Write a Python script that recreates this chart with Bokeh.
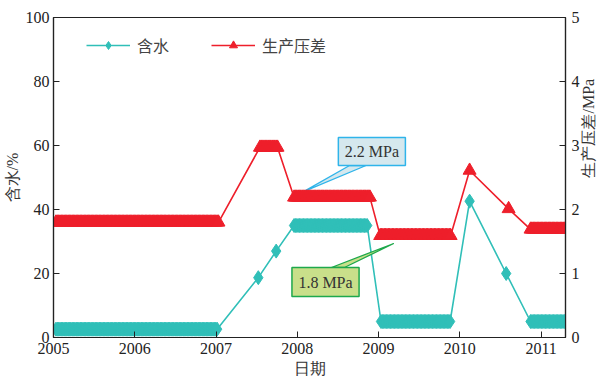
import numpy as np
from bokeh.plotting import figure
from bokeh.models import Range1d, LinearAxis, FixedTicker, Legend, LegendItem
from bokeh.embed import file_html
from bokeh.resources import INLINE
from bokeh.core.properties import value

# ---------------- data ----------------
years = [2005, 2006, 2007, 2008, 2009, 2010, 2011]
left_ticks = [0, 20, 40, 60, 80, 100]
right_ticks = [0, 1, 2, 3, 4, 5]

# water cut (%): plateaus of dense daily readings + single readings
water_plateau_start = [2005.03, 2007.96, 2009.03, 2010.87]
water_plateau_end = [2007.02, 2008.86, 2009.88, 2011.29]
water_plateau_value = [2.6, 35.0, 5.0, 5.0]
water_point_year = [2007.52, 2007.74, 2010.12, 2010.57]
water_point_value = [18.7, 27.0, 42.6, 20.0]

# production pressure difference (MPa)
press_plateau_start = [2005.03, 2007.54, 2007.96, 2009.02, 2010.87]
press_plateau_end = [2007.03, 2007.76, 2008.90, 2009.89, 2011.29]
press_plateau_value = [1.80, 2.97, 2.19, 1.59, 1.69]
press_point_year = [2010.12, 2010.60]
press_point_value = [2.61, 2.01]

annotation_texts = ["2.2 MPa", "1.8 MPa"]

STEP = 1.0 / 60.0  # sampling of the plateau readings


def build(starts, ends, vals, pyears, pvals):
    xs, ys = [], []
    for s, e, v in zip(starts, ends, vals):
        d = np.arange(s, e + 1e-9, STEP)
        xs.extend(d.tolist())
        ys.extend([v] * len(d))
    xs.extend(pyears)
    ys.extend(pvals)
    order = np.argsort(xs)
    return [xs[i] for i in order], [ys[i] for i in order]


wx, wy = build(water_plateau_start, water_plateau_end, water_plateau_value,
               water_point_year, water_point_value)
px_, py_ = build(press_plateau_start, press_plateau_end, press_plateau_value,
                 press_point_year, press_point_value)

# ---------------- figure ----------------
TEAL = "#30bfb8"
RED = "#ee1f2b"
SERIF = "Liberation Serif"
CJK = "Noto Sans CJK SC"

p = figure(width=608, height=383, x_range=Range1d(2005, 2011.3),
           y_range=Range1d(0, 100), output_backend="svg",
           toolbar_location=None, min_border_left=49, min_border_right=41,
           min_border_top=17, min_border_bottom=46)
p.extra_y_ranges = {"right": Range1d(0, 5)}
p.grid.visible = False
p.outline_line_color = "#222222"
p.outline_line_width = 1.2
p.background_fill_color = "white"
p.border_fill_color = "white"

# annotations (callout boxes) drawn first
p.patch([2008.077, 2008.643, 2008.846], [45.6, 53.75, 53.75],
        fill_color="#d5e8ee", line_color="#2fb4ea", line_width=1.3)
p.quad(left=[2008.505], right=[2009.33], top=[62.5], bottom=[53.75],
       fill_color="#d5e8ee", line_color="#2fb4ea", line_width=1.5)
p.text(x=[2008.918], y=[58.1], text=[annotation_texts[0]],
       text_font=value(SERIF), text_font_size="16px",
       text_color="#333333", text_align="center", text_baseline="middle")

# series
wl = p.line(wx, wy, line_color=TEAL, line_width=1.6)
ws = p.scatter(wx, wy, marker="diamond", size=14,
               fill_color=TEAL, line_color=TEAL, line_width=1)
pl = p.line(px_, py_, line_color=RED, line_width=1.6, y_range_name="right")
ps = p.scatter(px_, py_, marker="triangle", size=13, fill_color=RED,
               line_color=RED, line_width=1, y_range_name="right")

p.patch([2009.186, 2008.42, 2008.58], [29.375, 21.875, 21.875],
        fill_color="#c9df8a", line_color="#1ea84c", line_width=1.3)
p.quad(left=[2007.934], right=[2008.760], top=[21.875], bottom=[12.81],
       fill_color="#c9df8a", line_color="#1ea84c", line_width=1.5)
p.text(x=[2008.347], y=[17.34], text=[annotation_texts[1]],
       text_font=value(SERIF), text_font_size="16px",
       text_color="#333333", text_align="center", text_baseline="middle")


def style(ax):
    ax.axis_line_color = "#222222"
    ax.axis_line_width = 1.2
    ax.major_tick_line_color = "#222222"
    ax.major_tick_in = 6
    ax.major_tick_out = 0
    ax.minor_tick_line_color = None
    ax.major_label_text_font = SERIF
    ax.major_label_text_font_size = "16px"
    ax.major_label_text_color = "#222222"
    ax.axis_label_text_font = SERIF
    ax.axis_label_text_font_size = "16px"
    ax.axis_label_text_font_style = "normal"
    ax.axis_label_text_color = "#333333"


p.xaxis.ticker = FixedTicker(ticks=years)
p.xaxis.major_label_overrides = {y: str(y) for y in years}
p.xaxis.axis_label = "日期"
style(p.xaxis[0])
p.xaxis.major_label_standoff = 5
p.xaxis.axis_label_standoff = 3

p.yaxis.ticker = FixedTicker(ticks=left_ticks)
p.yaxis.axis_label = "含水/%"
style(p.yaxis[0])
p.yaxis.major_label_standoff = 4
p.yaxis.axis_label_standoff = 2

rax = LinearAxis(y_range_name="right", ticker=FixedTicker(ticks=right_ticks),
                 axis_label="生产压差/MPa")
style(rax)
rax.major_label_standoff = 6
rax.axis_label_standoff = 6
rax.axis_label_orientation = np.pi / 2
p.add_layout(rax, "right")

legend = Legend(items=[LegendItem(label="含水", renderers=[wl, ws]),
                       LegendItem(label="生产压差", renderers=[pl, ps])],
                orientation="horizontal", location=(33, 280))
legend.glyph_width = 44
legend.glyph_height = 20
legend.label_height = 20
legend.label_standoff = 7
legend.spacing = 42
legend.padding = 0
legend.margin = 0
legend.border_line_alpha = 0
legend.background_fill_alpha = 0
legend.label_text_font = CJK
legend.label_text_font_size = "16px"
legend.label_text_color = "#444444"
p.add_layout(legend, "center")

open("out.html", "w").write(file_html(p, INLINE))
